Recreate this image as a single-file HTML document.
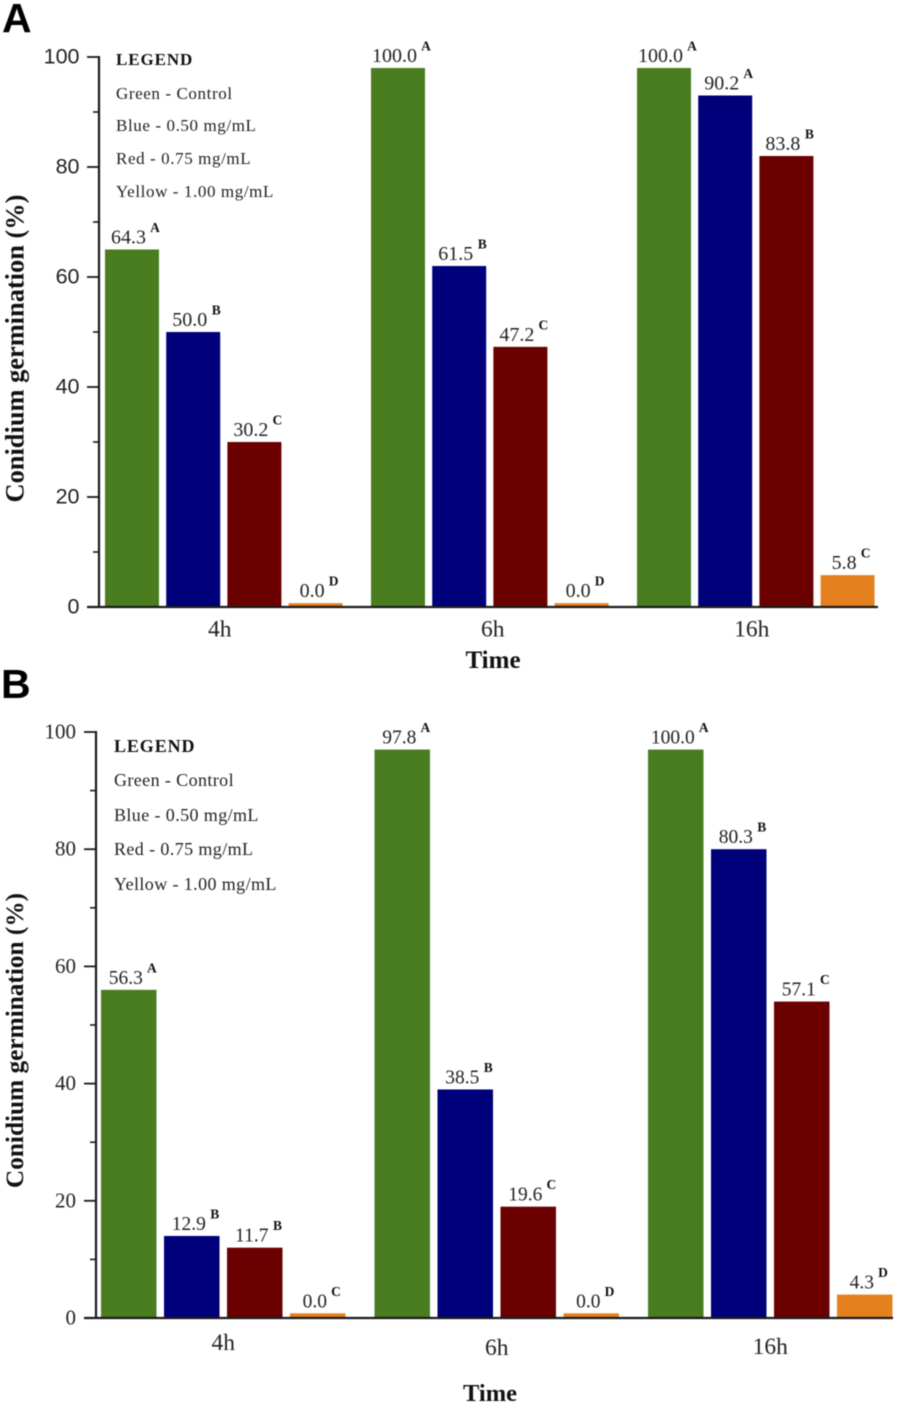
<!DOCTYPE html>
<html>
<head>
<meta charset="utf-8">
<title>Conidium germination charts</title>
<style>
html,body{margin:0;padding:0;background:#fff;width:901px;height:1404px;overflow:hidden}
svg{display:block;position:absolute;left:0;top:0;filter:blur(0.4px)}
text{font-family:"Liberation Serif",serif;fill:#222}
.sans{font-family:"Liberation Sans",sans-serif}
.bold{font-weight:bold;fill:#111}
</style>
</head>
<body>
<svg id="figure" xmlns="http://www.w3.org/2000/svg" width="901" height="1404" viewBox="0 0 901 1404"></svg>
<script>
// Shared data
const categories = ['4h', '6h', '16h'];
const seriesNames = ['control', 'blue-050', 'red-075', 'yellow-100'];
const seriesColors = ['#4a7c20', '#00007a', '#6b0000', '#e5801f'];
const yTicks = [0, 20, 40, 60, 80, 100];
const yMinorTicks = [10, 30, 50, 70, 90];
const legendLines = ['Green - Control', 'Blue - 0.50 mg/mL', 'Red - 0.75 mg/mL', 'Yellow - 1.00 mg/mL'];

// Panel A: bar heights as drawn, printed values and significance letters
const heightsA = [[65, 50, 30, 0.7], [98, 62, 47.3, 0.7], [98, 93, 82, 5.8]];
const printedA = [['64.3', '50.0', '30.2', '0.0'], ['100.0', '61.5', '47.2', '0.0'], ['100.0', '90.2', '83.8', '5.8']];
const lettersA = [['A', 'B', 'C', 'D'], ['A', 'B', 'C', 'D'], ['A', 'A', 'B', 'C']];

// Panel B: bar heights as drawn, printed values and significance letters
const heightsB = [[56, 14, 12, 0.8], [97, 39, 19, 0.8], [97, 80, 54, 4]];
const printedB = [['56.3', '12.9', '11.7', '0.0'], ['97.8', '38.5', '19.6', '0.0'], ['100.0', '80.3', '57.1', '4.3']];
const lettersB = [['A', 'B', 'B', 'C'], ['A', 'B', 'C', 'D'], ['A', 'B', 'C', 'D']];

const svg = document.getElementById('figure');
const NS = 'http://www.w3.org/2000/svg';

function make(tag, attrs, text) {
  const el = document.createElementNS(NS, tag);
  for (const k in attrs) el.setAttribute(k, attrs[k]);
  if (text !== undefined) el.textContent = text;
  svg.appendChild(el);
  return el;
}

function drawPanel(p) {
  const yScale = v => p.y0 - (p.y0 - p.y100) * v / 100;
  const xBar = (c, s) => p.x0 + c * p.groupStep + s * p.barStep;

  // bars and value labels
  categories.forEach((cat, c) => {
    p.heights[c].forEach((v, s) => {
      const top = yScale(v);
      const bar = make('rect', {x: xBar(c, s), y: top, width: p.barWidth, height: p.y0 - top, fill: seriesColors[s]});
      
      

      const cx = xBar(c, s) + p.barWidth / 2 + p.labelDx;
      const label = make('text', {x: cx, y: top - 6, 'text-anchor': 'middle', 'font-size': p.valueSize}, p.printed[c][s]);
      
      

      const w = label.getComputedTextLength();
      const letter = make('text', {x: cx + w / 2 + 9, y: top - 17.5, 'text-anchor': 'middle', 'font-size': 13.5, 'font-weight': 'bold', class: 'bold'}, p.letters[c][s]);
      
      
    });
  });

  // axes
  const yAxis = make('line', {x1: p.axisX, x2: p.axisX, y1: p.y100 - 1, y2: p.y0, stroke: '#1a1a1a', 'stroke-width': 2.2});
  
  

  const xAxis = make('line', {x1: p.axisX - 12, x2: p.axisEnd, y1: p.y0, y2: p.y0, stroke: '#1a1a1a', 'stroke-width': 2.2});
  
  

  yTicks.forEach(t => {
    const tick = make('line', {x1: p.axisX - 12, x2: p.axisX, y1: yScale(t), y2: yScale(t), stroke: '#1a1a1a', 'stroke-width': 1.8});
    
    

    const tl = make('text', {x: p.tickLabelX, y: yScale(t) + 6.5, 'text-anchor': 'end', 'font-size': p.tickSize, class: p.tickClass}, String(t));
    
    
  });

  yMinorTicks.forEach(t => {
    const minor = make('line', {x1: p.axisX - 6, x2: p.axisX, y1: yScale(t), y2: yScale(t), stroke: '#1a1a1a', 'stroke-width': 1.6});
    
    
  });

  // category labels
  categories.forEach((cat, c) => {
    const cx = xBar(c, 0) + (3 * p.barStep + p.barWidth) / 2 + p.catDx[c];
    const cl = make('text', {x: cx, y: p.catY[c], 'text-anchor': 'middle', 'font-size': p.catSize}, cat);
    
    
  });

  // titles
  const yTitle = make('text', {transform: 'translate(' + p.yTitleX + ',' + p.yTitleY + ') rotate(-90)', 'text-anchor': 'middle', 'font-size': p.yTitleSize, class: 'bold'}, 'Conidium germination (%)');
  
  

  const xTitle = make('text', {x: p.xTitleX, y: p.xTitleY, 'text-anchor': 'middle', 'font-size': p.xTitleSize, class: 'bold'}, 'Time');
  
  

  // legend
  const lh = make('text', {x: p.legendX, y: p.legendY[0], 'font-size': p.legendSize, 'letter-spacing': '0.9', class: 'bold'}, 'LEGEND');
  
  

  legendLines.forEach((line, i) => {
    const le = make('text', {x: p.legendX, y: p.legendY[i + 1], 'font-size': p.legendSize, 'letter-spacing': p.legendSpacing}, line);
    
    
  });

  // panel letter
  const pl = make('text', {x: p.letterX, y: p.letterY, 'font-size': 41, 'font-weight': 'bold', class: 'sans bold', style: 'fill:#000'}, p.letter);
  
  
}

drawPanel({
  id: 'panel-a', letter: 'A', letterX: 2, letterY: 32,
  heights: heightsA, printed: printedA, letters: lettersA,
  y0: 607, y100: 57, axisX: 99, axisEnd: 878,
  x0: 105, groupStep: 266, barStep: 61.2, barWidth: 54,
  valueSize: 20, labelDx: -3.5, tickSize: 21.5, tickClass: 'sans', tickLabelX: 79.5,
  catSize: 23.5, catDx: [-4, 3, -4], catY: [636.5, 636.5, 636.5],
  yTitleX: 23.5, yTitleY: 348.5, yTitleSize: 26.4,
  xTitleX: 493, xTitleY: 668, xTitleSize: 25,
  legendX: 116, legendY: [65, 99, 131, 164, 197], legendSize: 17, legendSpacing: 0.6
});

drawPanel({
  id: 'panel-b', letter: 'B', letterX: 1, letterY: 698,
  heights: heightsB, printed: printedB, letters: lettersB,
  y0: 1318, y100: 732, axisX: 96, axisEnd: 893,
  x0: 101, groupStep: 273.5, barStep: 63, barWidth: 55.5,
  valueSize: 19.5, labelDx: -3, tickSize: 21, tickClass: '', tickLabelX: 76,
  catSize: 23.5, catDx: [0, 0, 0], catY: [1350, 1355, 1354],
  yTitleX: 23, yTitleY: 1040.5, yTitleSize: 25.3,
  xTitleX: 490, xTitleY: 1401, xTitleSize: 24.5,
  legendX: 114, legendY: [752, 786, 821, 855, 890], legendSize: 18, legendSpacing: 0.4
});
</script>
</body>
</html>
